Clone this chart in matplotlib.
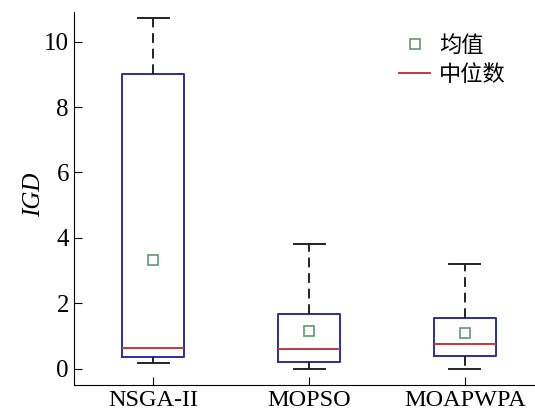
import matplotlib.pyplot as plt
from matplotlib.lines import Line2D

# box plot statistics
algorithms = ["NSGA-II", "MOPSO", "MOAPWPA"]
whisker_low = [0.18, 0.0, 0.0]
q1 = [0.37, 0.20, 0.39]
medians = [0.64, 0.60, 0.75]
q3 = [9.02, 1.66, 1.56]
whisker_high = [10.73, 3.82, 3.21]
means = [3.32, 1.14, 1.09]

plt.rcParams['font.family'] = ['Liberation Serif', 'DejaVu Serif']

stats = []
for i in range(len(algorithms)):
    stats.append({
        "label": algorithms[i],
        "whislo": whisker_low[i],
        "q1": q1[i],
        "med": medians[i],
        "q3": q3[i],
        "whishi": whisker_high[i],
        "mean": means[i],
        "fliers": [],
    })

fig = plt.figure(figsize=(5.35, 4.2), dpi=100)
ax = fig.add_axes([0.138, 0.083, 0.862, 0.888])

ax.bxp(stats, positions=[1, 2, 3], widths=0.4, showmeans=True,
       boxprops=dict(color="#2e2e9e", linewidth=1.4),
       medianprops=dict(color="#c23a3a", linewidth=1.4),
       whiskerprops=dict(color="#222222", linewidth=1.4, linestyle=(0, (5, 3))),
       capprops=dict(color="#222222", linewidth=1.4),
       capwidths=0.2,
       meanprops=dict(marker="s", markerfacecolor="none", markeredgecolor="#5f9c6c",
                      markersize=7, markeredgewidth=1.2, linestyle="none"))

ax.set_xlim(0.49, 3.45)
ax.set_ylim(-0.5, 10.9)
ax.set_yticks([0, 2, 4, 6, 8, 10])
ax.tick_params(direction="in", length=6, labelsize=18)
ax.tick_params(axis="x", labelsize=17.5)
ax.spines["top"].set_visible(False)
ax.spines["right"].set_visible(False)
ax.set_ylabel("IGD", fontsize=18, fontstyle="italic")
ax.yaxis.set_label_coords(-0.063, 0.51)

handles = [
    Line2D([], [], marker="s", markerfacecolor="none", markeredgecolor="#5f9c6c",
           markersize=7, markeredgewidth=1.2, linestyle="none"),
    Line2D([], [], color="#c23a3a", linewidth=1.4),
]
ax.legend(handles, ["均值", "中位数"], loc="upper right", bbox_to_anchor=(0.98, 0.995),
          frameon=False, handlelength=1.4, handletextpad=0.4, labelspacing=0.25,
          prop={"family": ["Noto Sans CJK SC", "DejaVu Sans"], "size": 16})

fig.savefig("out.png", dpi=100)
